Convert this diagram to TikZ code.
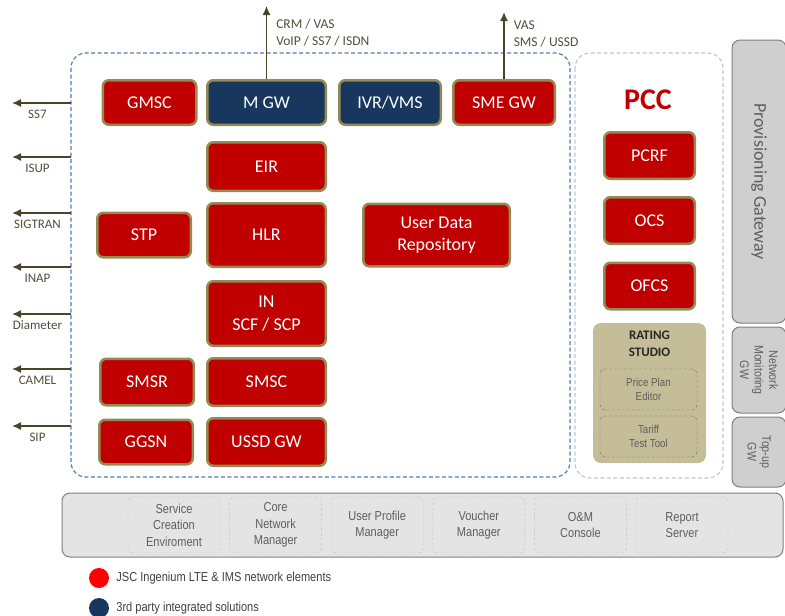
\documentclass[tikz,border=0pt]{standalone}
\usepackage{fontspec}
\setmainfont{Carlito}
\newfontfamily\narrowfont[FakeStretch=0.85]{Liberation Sans}
\usetikzlibrary{shapes,arrows,arrows.meta,positioning,calc}
\definecolor{jred}{HTML}{C00000}
\definecolor{jblue}{HTML}{17375E}
\definecolor{jtan}{HTML}{948A54}
\definecolor{jsig}{HTML}{4A452A}
\definecolor{jsigtext}{HTML}{524D3C}
\definecolor{jdash}{HTML}{4F7DB8}
\definecolor{jpcc}{HTML}{C4C4C4}
\definecolor{jrating}{HTML}{C4BD97}
\definecolor{jgw}{HTML}{CFCFCF}
\definecolor{jgwline}{HTML}{808080}
\definecolor{jbar}{HTML}{E4E4E4}
\definecolor{jgray}{HTML}{5E5E5E}
\definecolor{lred}{HTML}{FF0000}
\tikzset{
elem/.style = {draw=jtan, line width=2.5pt, fill=jred, rounded corners=6pt, text=white, align=center, inner sep=0pt, minimum height=44.5pt, font=\fontsize{18}{22.5}\selectfont},
narrowbox/.style = {elem, minimum width=93.5pt},
widebox/.style = {elem, minimum width=118.5pt},
midbox/.style = {elem, minimum width=101.5pt},
pccbox/.style = {elem, minimum width=90.5pt, minimum height=46.5pt},
thirdparty/.style = {fill=jblue},
sig/.style = {draw=jsig, line width=1.5pt, ->},
siglabel/.style = {text=jsigtext, font=\fontsize{13.5}{17}\selectfont, align=left, inner sep=0pt},
sigtag/.style = {text=jsigtext, font=\fontsize{13}{15}\selectfont, inner sep=0pt, below=6pt, xshift=-4pt},
coreline/.style = {draw=jdash, line width=1.2pt, dash pattern=on 4pt off 2.5pt, rounded corners=15pt},
pccline/.style = {draw=jpcc, line width=1.1pt, dash pattern=on 4pt off 2.5pt, rounded corners=15pt},
pcctitle/.style = {text=jred, font=\fontsize{30}{32}\selectfont\bfseries, inner sep=0pt},
rating/.style = {fill=jrating, rounded corners=8pt, minimum width=113pt, minimum height=140pt},
ratingtitle/.style = {text=black!85, font=\fontsize{13}{17}\selectfont\bfseries, align=center, inner sep=0pt},
ratingtool/.style = {draw=jtan!80!black, dash pattern=on 3pt off 2pt, rounded corners=5pt, minimum width=97pt, minimum height=41pt, text=jgray, align=center, inner sep=0pt, font=\narrowfont\fontsize{11.5}{14.5}\selectfont},
gw/.style = {draw=jgwline, fill=jgw, line width=1pt, rounded corners=8pt, rotate=-90, minimum height=54pt, text=jgray, align=center, inner sep=0pt, font=\narrowfont\fontsize{12.5}{14.5}\selectfont},
mgmtbar/.style = {draw=jgwline, fill=jbar, line width=1pt, rounded corners=8pt, minimum width=721pt, minimum height=64pt},
mgmttool/.style = {draw=jpcc, dash pattern=on 3pt off 2pt, rounded corners=5pt, minimum width=92pt, minimum height=56pt, text=jgray, align=center, inner sep=0pt, font=\narrowfont\fontsize{13}{16.5}\selectfont},
legdot/.style = {circle, inner sep=0pt, minimum size=20pt},
legtext/.style = {text=black!75, inner sep=0pt, font=\narrowfont\fontsize{13}{15}\selectfont}
}
\begin{document}
\begin{tikzpicture}[x=1pt, y=-1pt, node distance=64pt, >={Latex[length=9pt,width=8pt]}]
\useasboundingbox (0,0) rectangle (785,616);

\draw [coreline] (71,53) rectangle (570,477);
\draw [pccline] (575,53) rectangle (723,478);

\node [narrowbox] (gmsc) at (149.5,102.5) {GMSC};
\node [widebox, thirdparty, right of=gmsc, node distance=117pt] (mgw) {M GW};
\node [midbox, thirdparty, right of=mgw, node distance=123.5pt] (ivr) {IVR/VMS};
\node [midbox, right of=ivr, node distance=114pt] (smegw) {SME GW};
\node [widebox, below of=mgw, minimum height=48.5pt] (eir) {EIR};
\node [widebox, below of=eir, node distance=68.5pt, minimum height=63.5pt] (hlr) {HLR};
\node [narrowbox, left of=hlr, node distance=122.5pt] (stp) {STP};
\node [elem, right of=hlr, node distance=170pt, minimum width=146.5pt, minimum height=62.5pt] (udr) {User Data\\Repository};
\node [widebox, below of=hlr, node distance=78.5pt, minimum height=64.5pt] (scp) {IN\\SCF / SCP};
\node [widebox, below of=scp, node distance=68.5pt, minimum height=47.5pt] (smsc) {SMSC};
\node [narrowbox, left of=smsc, node distance=119.5pt, minimum height=46.5pt] (smsr) {SMSR};
\node [widebox, below of=smsc, node distance=60pt, minimum height=47.5pt] (ussd) {USSD GW};
\node [narrowbox, left of=ussd, node distance=120.5pt] (ggsn) {GGSN};

\coordinate (mgwup) at (266.5,6);
\coordinate (smeup) at (504,12);
\draw [sig] (mgw) -- node [siglabel, right=9pt, pos=0.63] (mgwlabel) {CRM / VAS\\VoIP / SS7 / ISDN} (mgwup);
\draw [sig] (smegw) -- node [siglabel, right=9pt, pos=0.68] (smelabel) {VAS\\SMS / USSD} (smeup);

\foreach \y/\lbl in {103/SS7, 157/ISUP, 213/SIGTRAN, 267/INAP, 314/Diameter, 369/CAMEL, 426/SIP} {
  \coordinate (sig\y) at (71,\y);
  \coordinate (sigend\y) at (12,\y);
  \draw [sig] (sig\y) -- node [sigtag] {\lbl} (sigend\y);
}

\node [pcctitle] (pcc) at (648,100) {PCC};
\node [pccbox] (pcrf) at (649.5,155.5) {PCRF};
\node [pccbox, below of=pcrf, node distance=65pt] (ocs) {OCS};
\node [pccbox, below of=ocs, node distance=65.5pt] (ofcs) {OFCS};

\node [rating] (rating) at (649.5,393) {};
\node [ratingtitle] (ratingname) at (649.5,343.5) {RATING\\STUDIO};
\node [ratingtool] (priceplan) at (648.5,389.5) {Price Plan\\Editor};
\node [ratingtool, below of=priceplan, node distance=47pt] (tariff) {Tariff\\Test Tool};

\node [gw, minimum width=283pt, font=\fontsize{18}{20}\selectfont] (prov) at (759,181.5) {Provisioning Gateway};
\node [gw, minimum width=86pt] (netmon) at (759,370) {Network\\Monitoring\\GW};
\node [gw, minimum width=70pt] (topup) at (759,452) {Top-up\\GW};

\node [mgmtbar] (mgmt) at (422.5,525) {};
\foreach \i/\txt in {0/{Service\\Creation\\Enviroment}, 1/{Core\\Network\\Manager}, 2/{User Profile\\Manager}, 3/{Voucher\\Manager}, 4/{O\&M\\Console}, 5/{Report\\Server}}
  \node [mgmttool] (tool\i) at ({174+101.6*\i},525) {\txt};

\node [legdot, fill=lred] (legred) at (99,578) {};
\node [legtext, right=7pt of legred] (legredtext) {JSC Ingenium LTE \& IMS network elements};
\node [legdot, fill=jblue] (legblue) at (99,608) {};
\node [legtext, right=7pt of legblue] (legbluetext) {3rd party integrated solutions};
\end{tikzpicture}
\end{document}
